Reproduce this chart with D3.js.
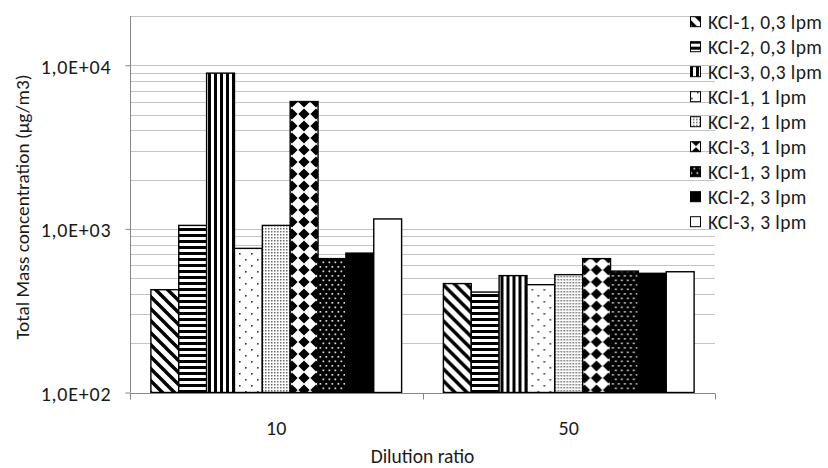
<!DOCTYPE html>
<html>
<head>
<meta charset="utf-8">
<script src="https://cdn.jsdelivr.net/npm/d3@7"></script>
<style>
  html, body { margin: 0; padding: 0; background: #fff; }
  svg text { font-family: Carlito, Lato, "Open Sans", sans-serif; fill: #1a1a1a; }
</style>
</head>
<body>
<svg id="chart" width="828" height="468"></svg>
<script>
// ---- data ----
const categories = ["10", "50"];
const seriesNames = [
  "KCl-1, 0,3 lpm", "KCl-2, 0,3 lpm", "KCl-3, 0,3 lpm",
  "KCl-1, 1 lpm", "KCl-2, 1 lpm", "KCl-3, 1 lpm",
  "KCl-1, 3 lpm", "KCl-2, 3 lpm", "KCl-3, 3 lpm"
];
const valuesRatio10 = [425, 1050, 8950, 760, 1050, 6000, 658, 711, 1150];
const valuesRatio50 = [463, 411, 518, 456, 525, 658, 552, 535, 547];
const yDomain = [100, 20000];
const yTickValues = [100, 1000, 10000];
const yTickLabels = ["1,0E+02", "1,0E+03", "1,0E+04"];
const xTitle = "Dilution ratio";
const yTitle = "Total Mass concentration (µg/m3)";
const fillKeys = ["diag", "hstripe", "vstripe", "sparse", "grid", "diamond", "confetti", "black", "white"];

const seriesValues = [valuesRatio10, valuesRatio50];

// ---- layout ----
const plot = { left: 130, right: 715, top: 16, bottom: 392.5 };
const svg = d3.select("#chart");

const x0 = d3.scaleBand().domain(categories).range([plot.left, plot.right]).padding(0);
const x1 = d3.scaleBand().domain(seriesNames).range([0, x0.bandwidth()])
  .paddingInner(0).paddingOuter(0.75);
const y = d3.scaleLog().domain(yDomain).range([plot.bottom, plot.top]);

// ---- fill patterns ----
const defs = svg.append("defs");
function pattern(id, w, h, bg) {
  const p = defs.append("pattern").attr("id", id)
    .attr("patternUnits", "userSpaceOnUse").attr("width", w).attr("height", h);
  p.append("rect").attr("width", w).attr("height", h).attr("fill", bg);
  return p;
}
let p = pattern("p-diag", 12, 12, "#fff");
p.append("path").attr("d", "M-3,-3L15,15M-15,-3L3,15M9,-3L27,15")
  .attr("stroke", "#000").attr("stroke-width", 3.4);

p = pattern("p-hstripe", 6, 6, "#fff");
p.append("rect").attr("width", 6).attr("height", 3).attr("fill", "#000");

p = pattern("p-vstripe", 6, 6, "#fff");
p.append("rect").attr("width", 3).attr("height", 6).attr("fill", "#000");

p = pattern("p-sparse", 12, 12, "#fff");
p.append("rect").attr("x", 1).attr("y", 1).attr("width", 1.6).attr("height", 1.6).attr("fill", "#333");
p.append("rect").attr("x", 7).attr("y", 7).attr("width", 1.6).attr("height", 1.6).attr("fill", "#333");

p = pattern("p-grid", 3, 3, "#fff");
p.append("rect").attr("width", 1.5).attr("height", 1.5).attr("fill", "#6a6a6a");

p = pattern("p-diamond", 12, 12, "#fff");
p.append("path").attr("d", "M6,0.4L11.6,6L6,11.6L0.4,6Z").attr("fill", "#000");

p = pattern("p-confetti", 6, 9, "#000");
p.append("rect").attr("x", 0.5).attr("y", 0.5).attr("width", 1.7).attr("height", 1.7).attr("fill", "#ddd");
p.append("rect").attr("x", 3.5).attr("y", 5).attr("width", 1.7).attr("height", 1.7).attr("fill", "#ddd");

function fillFor(key) {
  if (key === "black") return "#000";
  if (key === "white") return "#fff";
  return "url(#p-" + key + ")";
}

// ---- gridlines ----
svg.append("g").selectAll("line")
  .data(y.ticks())
  .join("line")
  .attr("x1", plot.left)
  .attr("x2", d => d === yDomain[1] ? 693 : plot.right)
  .attr("y1", d => Math.round(y(d)) + 0.5).attr("y2", d => Math.round(y(d)) + 0.5)
  .attr("stroke", "#c4c4c4").attr("stroke-width", 1);

// ---- bars ----
const groups = svg.append("g").selectAll("g")
  .data(categories)
  .join("g")
  .attr("transform", d => `translate(${x0(d)},0)`);

groups.selectAll("rect")
  .data((c, ci) => seriesNames.map((s, si) => ({ s, si, v: seriesValues[ci][si] })))
  .join("rect")
  .attr("x", d => x1(d.s))
  .attr("y", d => y(d.v))
  .attr("width", x1.bandwidth())
  .attr("height", d => plot.bottom - y(d.v))
  .attr("fill", d => fillFor(fillKeys[d.si]))
  .attr("stroke", "#000")
  .attr("stroke-width", 1.4);

// ---- axes ----
const axisColor = "#868686";
const yAxis = svg.append("g")
  .attr("transform", `translate(${plot.left + 0.5},0)`)
  .call(d3.axisLeft(y).tickValues(yTickValues)
    .tickFormat((d, i) => yTickLabels[i]).tickSize(5).tickPadding(14));
yAxis.select(".domain").attr("stroke", axisColor).attr("d", `M0,${plot.top}V${plot.bottom}`);
yAxis.selectAll(".tick line").attr("stroke", axisColor);
yAxis.selectAll(".tick text")
  .attr("font-size", 20).attr("letter-spacing", 0.8).attr("dy", "0.4em");

const xAxis = svg.append("g")
  .attr("transform", `translate(0,${Math.round(plot.bottom) + 0.5})`)
  .call(d3.axisBottom(x0).tickSize(0).tickPadding(30));
xAxis.select(".domain").attr("stroke", axisColor).attr("d", `M${plot.left},0H${plot.right}`);
xAxis.selectAll(".tick text").attr("font-size", 20).attr("dy", "0.55em");
// category boundary ticks
xAxis.append("g").selectAll("line")
  .data([plot.left, ...categories.map(c => x0(c) + x0.bandwidth())])
  .join("line")
  .attr("x1", d => Math.round(d) + 0.5).attr("x2", d => Math.round(d) + 0.5)
  .attr("y1", 0).attr("y2", 6)
  .attr("stroke", axisColor);
svg.selectAll(".domain").attr("fill", "none");
svg.selectAll(".tick text").attr("fill", "#1a1a1a");

// ---- axis titles ----
svg.append("text")
  .attr("x", (plot.left + plot.right) / 2).attr("y", 463)
  .attr("text-anchor", "middle").attr("font-size", 19.5)
  .text(xTitle);

svg.append("text")
  .attr("transform", "translate(29,207) rotate(-90)")
  .attr("text-anchor", "middle").attr("font-size", 19.3)
  .text(yTitle);

// ---- legend ----
const legend = svg.append("g").attr("transform", "translate(690,0)");
const items = legend.selectAll("g")
  .data(seriesNames)
  .join("g")
  .attr("transform", (d, i) => `translate(0,${21.7 + i * 25})`);
items.append("rect")
  .attr("x", 0.5).attr("y", -5).attr("width", 10).attr("height", 10)
  .attr("fill", (d, i) => fillFor(fillKeys[i]))
  .attr("stroke", "#000").attr("stroke-width", 1);
items.append("text")
  .attr("x", 18).attr("y", 0).attr("dy", "0.36em")
  .attr("font-size", 19.5).attr("letter-spacing", 0.4)
  .text(d => d);
</script>
</body>
</html>
